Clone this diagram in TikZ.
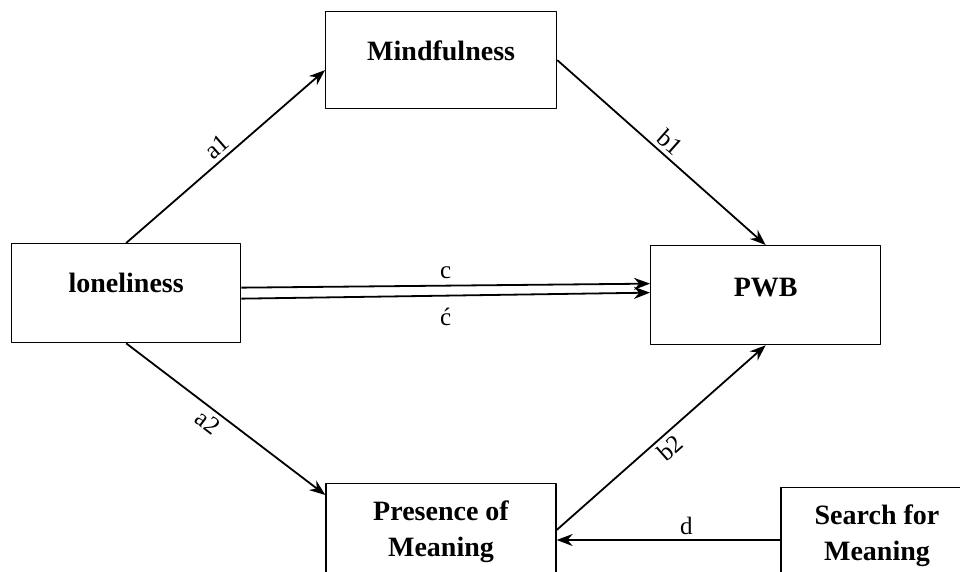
\documentclass[tikz,border=0pt]{standalone}
\usepackage{fontspec}
\setmainfont{Liberation Serif}
\usepackage{tikz}
\usetikzlibrary{arrows.meta,calc}

\begin{document}
\begin{tikzpicture}[x=1pt, y=-1pt, >={Stealth[length=16pt,width=12pt]}, line join=round,
  varbox/.style={draw, line width=1.3pt, font=\fontsize{28}{36}\selectfont\bfseries, inner sep=0pt},
  link/.style={->, line width=1.8pt},
  lbl/.style={font=\fontsize{25}{29}\selectfont, inner sep=4pt}]
  \useasboundingbox (0,0) rectangle (960,572);
  \clip (0,0) rectangle (960,572);
  % variables
  \node[varbox, anchor=north west, minimum width=229pt, minimum height=99pt, text depth=20pt] (lon) at (11,243) {loneliness};
  \node[varbox, anchor=north west, minimum width=231pt, minimum height=97pt, text depth=20pt] (mind) at (325,11) {Mindfulness};
  \node[varbox, anchor=north west, minimum width=230pt, minimum height=99pt, text depth=16pt] (pwb) at (650,245) {PWB};
  \node[varbox, anchor=north, minimum width=230pt, inner ysep=17pt, align=center] (pres) at (441,483) {Presence of\\Meaning};
  \node[varbox, anchor=north, minimum width=192pt, inner ysep=17pt, align=center] (search) at (877,487) {Search for\\Meaning};
  % paths
  \draw[link] (lon.north) -- ([yshift=-10pt]mind.west) node[lbl, midway, sloped, above] {a1};
  \draw[link] (mind.east) -- (pwb.north) node[lbl, midway, sloped, above] {b1};
  \draw[link] ([yshift=5.5pt]lon.east) -- ([yshift=11.5pt]pwb.west) node[lbl, midway, above=2pt] {c};
  \draw[link] ([yshift=-5.5pt]lon.east) -- ([yshift=2.5pt]pwb.west) node[lbl, midway, below=8pt] {\'c};
  \draw[link] (lon.south) -- ([yshift=-12pt]pres.north west) node[lbl, pos=0.45, sloped, below] {a2};
  \draw[link] ([yshift=-47pt]pres.north east) -- (pwb.south) node[lbl, midway, sloped, below] {b2};
  \coordinate (dstart) at ([yshift=-53pt]search.north west);
  \draw[link] (dstart) -- (dstart -| pres.east) node[lbl, pos=0.42, above] {d};
\end{tikzpicture}
\end{document}
